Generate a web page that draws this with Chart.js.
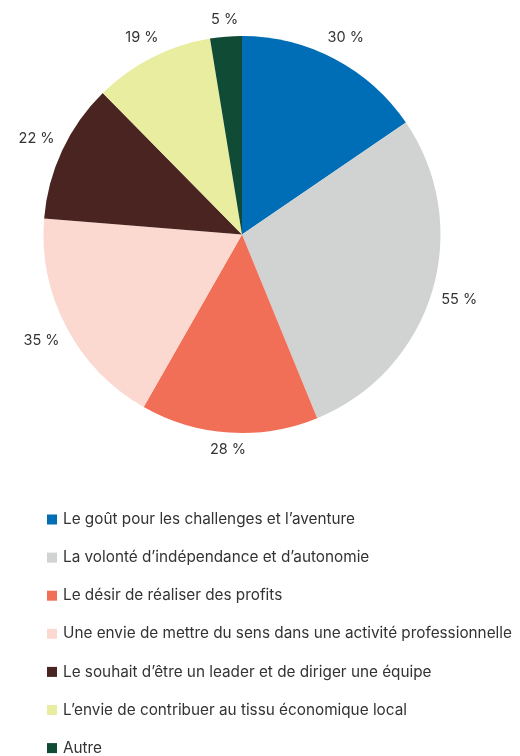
<!DOCTYPE html>
<html><head><meta charset="utf-8">
<script src="https://cdn.jsdelivr.net/npm/chart.js@4/dist/chart.umd.min.js"></script>
<style>html,body{margin:0;padding:0;background:#fff;}#wrap{width:520px;height:756px;position:relative;}</style>
</head><body><div id="wrap"><canvas id="c" width="520" height="756"></canvas></div>
<script>
const categories = [
  "Le goût pour les challenges et l’aventure",
  "La volonté d’indépendance et d’autonomie",
  "Le désir de réaliser des profits",
  "Une envie de mettre du sens dans une activité professionnelle",
  "Le souhait d’être un leader et de diriger une équipe",
  "L’envie de contribuer au tissu économique local",
  "Autre"
];
const values = [30, 55, 28, 35, 22, 19, 5];
const valueLabels = ["30 %", "55 %", "28 %", "35 %", "22 %", "19 %", "5 %"];
const colors = ["#006eb6", "#d0d3d2", "#f26f57", "#fbd8d0", "#4a2420", "#e9eda0", "#0f4b35"];

const FONT = 'Inter, "Liberation Sans", Arial, sans-serif';
const TEXT = '#333333';

const labelPlugin = {
  id: 'outLabels',
  afterDatasetsDraw(chart) {
    const ctx = chart.ctx;
    const meta = chart.getDatasetMeta(0);
    ctx.save();
    ctx.font = '14.5px ' + FONT;
    ctx.fillStyle = TEXT;
    ctx.textAlign = 'center';
    ctx.textBaseline = 'middle';
    meta.data.forEach((arc, i) => {
      const p = arc.getProps(['x','y','startAngle','endAngle','outerRadius'], true);
      const a = (p.startAngle + p.endAngle) / 2;
      const w = ctx.measureText(valueLabels[i]).width;
      const h = 14;
      const ext = Math.abs(Math.cos(a)) * w / 2 + Math.abs(Math.sin(a)) * h / 2;
      const d = p.outerRadius + 9 + ext;
      ctx.fillText(valueLabels[i], p.x + Math.cos(a) * d, p.y + Math.sin(a) * d);
    });
    ctx.restore();
  }
};

const legendPlugin = {
  id: 'listLegend',
  afterDraw(chart) {
    const ctx = chart.ctx;
    ctx.save();
    ctx.font = '15.3px ' + FONT;
    ctx.textBaseline = 'middle';
    ctx.textAlign = 'left';
    const y0 = 519.5, step = 38.1;
    chart.data.labels.forEach((lab, i) => {
      const y = y0 + i * step;
      ctx.fillStyle = chart.data.datasets[0].backgroundColor[i];
      ctx.fillRect(47, y - 5, 10, 10);
      ctx.fillStyle = TEXT;
      ctx.fillText(lab, 63, y);
    });
    ctx.restore();
  }
};

new Chart(document.getElementById('c'), {
  type: 'pie',
  data: {
    labels: categories,
    datasets: [{ data: values, backgroundColor: colors, borderWidth: 0 }]
  },
  options: {
    responsive: false,
    animation: false,
    layout: { padding: { left: 43.5, right: 79.5, top: 36, bottom: 323 } },
    plugins: { legend: { display: false }, tooltip: { enabled: false } }
  },
  plugins: [labelPlugin, legendPlugin]
});
</script></body></html>
